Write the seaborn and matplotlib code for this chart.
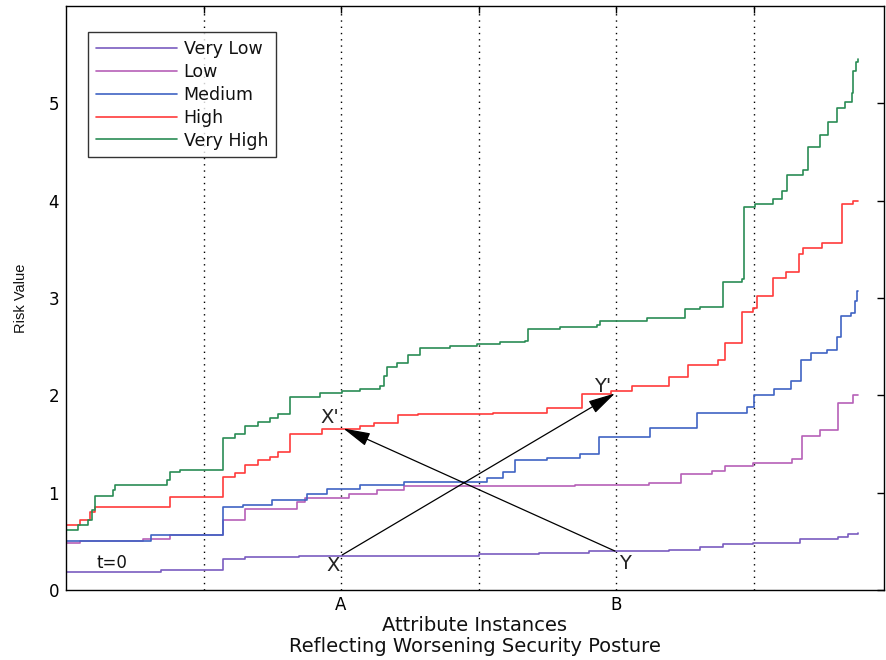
import matplotlib
matplotlib.use("Agg")
import matplotlib.pyplot as plt
import seaborn as sns
import pandas as pd

# ---------------- data (x = attribute instance index, y = risk value) -------------
levels = ["Very Low", "Low", "Medium", "High", "Very High"]
line_colors = ["#7a5cc0", "#b660b8", "#3f63c4", "#ff3b3b", "#2a8c55"]

very_low_x = [0, 17.3, 28.5, 32.5, 42.4, 75, 86, 95, 109.6, 115.3, 119.5, 124.9, 133.5, 140.4, 142.2, 144]
very_low_y = [0.18, 0.21, 0.32, 0.34, 0.35, 0.37, 0.38, 0.40, 0.41, 0.44, 0.47, 0.48, 0.52, 0.54, 0.58, 0.59]

low_x = [0, 2.5, 14, 18.9, 28.5, 32.5, 42.0, 43.5, 51.5, 56.5, 61.5, 92.5, 106, 111.8, 117.5, 119.8,
         124.9, 132, 133.8, 137.1, 140.4, 143.1, 144]
low_y = [0.48, 0.50, 0.52, 0.56, 0.72, 0.83, 0.90, 0.95, 0.99, 1.03, 1.07, 1.08, 1.10, 1.19, 1.22, 1.27,
         1.30, 1.35, 1.58, 1.64, 1.92, 2.00, 2.00]

medium_x = [0, 15.5, 28.5, 32.2, 37.5, 43.8, 47.5, 53.5, 61.5, 76.5, 79.5, 81.6, 87.5, 93.5, 96.9,
            106.2, 114.7, 123.8, 125.1, 128.7, 131.8, 133.6, 135.5, 138.4, 140.2, 140.9, 142.7,
            143.4, 143.8, 144]
medium_y = [0.50, 0.56, 0.85, 0.87, 0.92, 0.99, 1.04, 1.08, 1.11, 1.15, 1.21, 1.34, 1.36, 1.40, 1.57,
            1.66, 1.82, 1.88, 2.00, 2.07, 2.15, 2.36, 2.44, 2.47, 2.60, 2.82, 2.85,
            2.97, 3.07, 3.07]

high_x = [0, 2.5, 4.4, 5.3, 18.9, 28.5, 30.7, 32.5, 34.9, 37.1, 38.5, 40.7, 46.5, 53.5, 56.0, 60.4,
          64.0, 77.6, 87.5, 93.8, 99.1, 102.9, 109.6, 113.1, 118.5, 119.8, 122.9, 124.9, 125.6,
          128.5, 130.9, 133.3, 134.0, 137.5, 140.4, 141.1, 143.1, 144]
high_y = [0.67, 0.72, 0.80, 0.85, 0.96, 1.16, 1.20, 1.28, 1.34, 1.37, 1.42, 1.60, 1.65, 1.69, 1.72, 1.80,
          1.81, 1.82, 1.87, 2.01, 2.04, 2.10, 2.19, 2.31, 2.36, 2.54, 2.86, 2.90, 3.02,
          3.21, 3.27, 3.45, 3.51, 3.56, 3.57, 3.97, 4.00, 4.00]

very_high_x = [0, 2.2, 4.0, 4.7, 5.3, 8.5, 8.9, 18.4, 18.9, 20.7, 28.5, 30.7, 32.5, 34.9, 37.1, 38.5,
               40.7, 46.2, 50.2, 53.5, 57.1, 57.8, 58.4, 60.2, 62.2, 64.4, 69.8, 74.7, 78.9, 83.5,
               84.0, 89.8, 96.5, 97.1, 105.6, 112.5, 115.3, 119.5, 122.9, 123.3, 125.3, 128.5,
               130.2, 131.1, 134.0, 134.9, 137.1, 138.5, 140.2, 141.6, 142.9, 143.1, 143.6, 144]
very_high_y = [0.615, 0.67, 0.72, 0.82, 0.97, 1.03, 1.08, 1.13, 1.21, 1.23, 1.56, 1.60, 1.69, 1.73,
               1.77, 1.81, 1.98, 2.02, 2.04, 2.07, 2.10, 2.20, 2.29, 2.33, 2.41, 2.49, 2.51, 2.53,
               2.55, 2.56, 2.68, 2.70, 2.72, 2.76, 2.79, 2.89, 2.91, 3.16, 3.20, 3.94, 3.97, 4.02,
               4.10, 4.26, 4.31, 4.55, 4.67, 4.81, 4.95, 5.01, 5.11, 5.33, 5.42, 5.46]

tick_positions = [25, 50, 75, 100, 125]
tick_labels = ["", "A", "", "B", ""]
y_ticks = [0, 1, 2, 3, 4, 5]

# annotation anchors (instance, risk value)
point_X = (50.2, 0.36)
point_Y = (99.8, 0.40)
point_Xp = (50.4, 1.66)
point_Yp = (99.8, 2.02)

# ---------------- build long table ----------------
series = {
    "Very Low": (very_low_x, very_low_y),
    "Low": (low_x, low_y),
    "Medium": (medium_x, medium_y),
    "High": (high_x, high_y),
    "Very High": (very_high_x, very_high_y),
}
rows = []
for name, (xs, ys) in series.items():
    for xv, yv in zip(xs, ys):
        rows.append({"instance": xv, "risk": yv, "level": name})
df = pd.DataFrame(rows)

sns.set_theme(style="white")
plt.rcParams["font.family"] = ["DejaVu Sans"]

fig = plt.figure(figsize=(8.86, 6.6), dpi=100)
ax = fig.add_axes([66 / 886, 1 - 590 / 660, 818 / 886, 584 / 660])

palette = dict(zip(levels, line_colors))
for name in levels:
    sub = df[df["level"] == name]
    sns.lineplot(data=sub, x="instance", y="risk", color=palette[name], ax=ax,
                 estimator=None, sort=False, drawstyle="steps-post", linewidth=1.2,
                 label=name, legend=False)

ax.set_xlim(0, 148.7)
ax.set_ylim(0, 6)
ax.set_xticks(tick_positions)
ax.set_xticklabels(tick_labels, fontsize=12)
ax.set_yticks(y_ticks)
ax.set_yticklabels([str(v) for v in y_ticks], fontsize=12)
ax.tick_params(direction="in", top=True, right=True, length=5, width=1,
               colors="black", pad=5)
ax.tick_params(axis="x", pad=4)

ax.xaxis.grid(True, color="black", linestyle=(0, (1, 3.5)), linewidth=1.0)
ax.yaxis.grid(False)
ax.set_axisbelow(True)
for sp in ax.spines.values():
    sp.set_color("black")
    sp.set_linewidth(1.0)
    sp.set_visible(True)

ax.set_xlabel("Attribute Instances\nReflecting Worsening Security Posture",
              fontsize=14, color="#111111", labelpad=2, linespacing=1.12)
ax.set_ylabel("Risk Value", fontsize=10.5, family=["Liberation Sans", "DejaVu Sans"], color="#111111")
ax.yaxis.set_label_coords(-0.0465, 0.5)

# arrows
arrow_kw = dict(arrowstyle="-|>,head_length=1.2,head_width=0.3", color="black", lw=0.9,
                mutation_scale=14, shrinkA=0, shrinkB=0)
ax.annotate("", xy=point_Yp, xytext=point_X, arrowprops=arrow_kw)
ax.annotate("", xy=point_Xp, xytext=point_Y, arrowprops=arrow_kw)

txt_kw = dict(fontsize=14, color="#222222", ha="center", va="center")
ax.text(48.5, 0.25, "X", **txt_kw)
ax.text(48.0, 1.77, "X'", **txt_kw)
ax.text(101.6, 0.27, "Y", **txt_kw)
ax.text(97.6, 2.09, "Y'", **txt_kw)
ax.text(5.6, 0.28, "t=0", fontsize=12, color="#111111", ha="left", va="center")

leg = ax.legend(loc="upper left", bbox_to_anchor=(0.027, 0.955), borderaxespad=0,
                fontsize=12.5, handlelength=4.7, handletextpad=0.35, labelspacing=0.28,
                borderpad=0.45, fancybox=False, frameon=True)
leg.get_frame().set_edgecolor("black")
leg.get_frame().set_linewidth(1.0)
for t in leg.get_texts():
    t.set_color("#111111")

fig.savefig("out.png", dpi=100, facecolor="white")
